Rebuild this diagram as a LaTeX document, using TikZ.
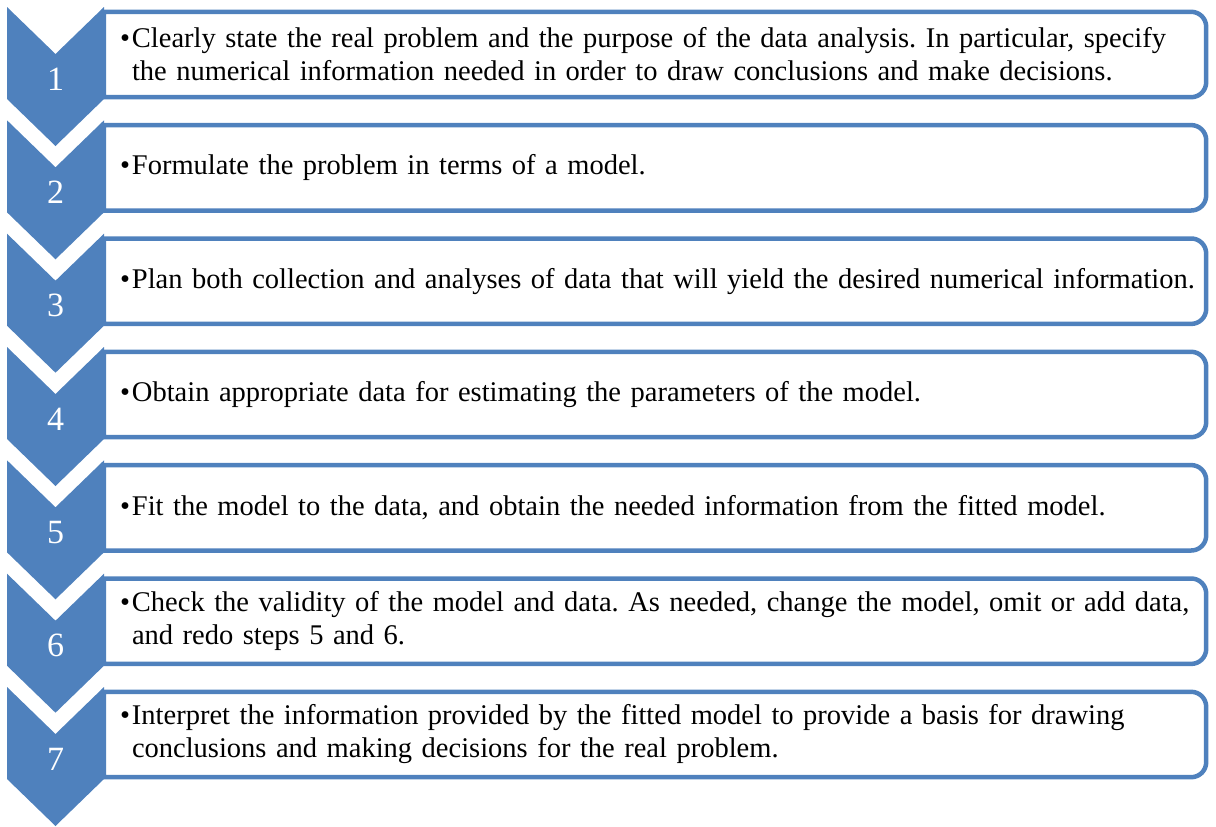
\documentclass[tikz,border=0pt]{standalone}
\usepackage{fontspec}
\setmainfont{Liberation Serif}
\frenchspacing
\definecolor{stepblue}{HTML}{4F81BD}
\newcommand{\stepdot}{\makebox[12pt][l]{\textbullet}}
\newcommand{\stepindent}{\hspace*{12pt}}
\begin{document}
\begin{tikzpicture}[x=1pt,y=-1pt,
  chev/.style={fill=stepblue},
  frame/.style={draw=stepblue,line width=4.5pt,fill=white},
  stepbox/.style={minimum width=1102pt,minimum height=85pt,inner sep=0pt},
  steptext/.style={anchor=west,inner xsep=16pt,inner ysep=0pt,text width=1084pt,
    align=left,font=\fontsize{28.5}{33}\selectfont},
  num/.style={text=white,font=\fontsize{34}{40}\selectfont}]
\useasboundingbox (0,0) rectangle (1216,827);
% text boxes
\node[stepbox] (s1) at (655,54.5) {};
\node[stepbox] (s2) at (655,167.8) {};
\node[stepbox] (s3) at (655,281.2) {};
\node[stepbox] (s4) at (655,394.5) {};
\node[stepbox] (s5) at (655,507.8) {};
\node[stepbox] (s6) at (655,621.2) {};
\node[stepbox] (s7) at (655,734.5) {};
% frames, square on the left, round on the right
\draw[frame] (s1.north west) -- ([xshift=-15pt]s1.north east) arc[start angle=90,end angle=0,radius=15pt] -- ([yshift=15pt]s1.south east) arc[start angle=0,end angle=-90,radius=15pt] -- (s1.south west) -- cycle;
\draw[frame] (s2.north west) -- ([xshift=-15pt]s2.north east) arc[start angle=90,end angle=0,radius=15pt] -- ([yshift=15pt]s2.south east) arc[start angle=0,end angle=-90,radius=15pt] -- (s2.south west) -- cycle;
\draw[frame] (s3.north west) -- ([xshift=-15pt]s3.north east) arc[start angle=90,end angle=0,radius=15pt] -- ([yshift=15pt]s3.south east) arc[start angle=0,end angle=-90,radius=15pt] -- (s3.south west) -- cycle;
\draw[frame] (s4.north west) -- ([xshift=-15pt]s4.north east) arc[start angle=90,end angle=0,radius=15pt] -- ([yshift=15pt]s4.south east) arc[start angle=0,end angle=-90,radius=15pt] -- (s4.south west) -- cycle;
\draw[frame] (s5.north west) -- ([xshift=-15pt]s5.north east) arc[start angle=90,end angle=0,radius=15pt] -- ([yshift=15pt]s5.south east) arc[start angle=0,end angle=-90,radius=15pt] -- (s5.south west) -- cycle;
\draw[frame] (s6.north west) -- ([xshift=-15pt]s6.north east) arc[start angle=90,end angle=0,radius=15pt] -- ([yshift=15pt]s6.south east) arc[start angle=0,end angle=-90,radius=15pt] -- (s6.south west) -- cycle;
\draw[frame] (s7.north west) -- ([xshift=-15pt]s7.north east) arc[start angle=90,end angle=0,radius=15pt] -- ([yshift=15pt]s7.south east) arc[start angle=0,end angle=-90,radius=15pt] -- (s7.south west) -- cycle;
% step texts
\node[steptext] (t1) at (s1.west) {\stepdot Clearly state the real problem and the purpose of the data analysis. In particular, specify\\\stepindent the numerical information needed in order to draw conclusions and make decisions.};
\node[steptext] (t2) at (s2.west) {\stepdot Formulate the problem in terms of a model.};
\node[steptext] (t3) at (s3.west) {\stepdot Plan both collection and analyses of data that will yield the desired numerical information.};
\node[steptext] (t4) at (s4.west) {\stepdot Obtain appropriate data for estimating the parameters of the model.};
\node[steptext] (t5) at (s5.west) {\stepdot Fit the model to the data, and obtain the needed information from the fitted model.};
\node[steptext] (t6) at (s6.west) {\stepdot Check the validity of the model and data. As needed, change the model, omit or add data,\\\stepindent and redo steps 5 and 6.};
\node[steptext] (t7) at (s7.west) {\stepdot Interpret the information provided by the fitted model to provide a basis for drawing\\\stepindent conclusions and making decisions for the real problem.};
% chevrons
\fill[chev] (7,7) -- (55.5,54) -- (104,7) -- (104,99) -- (55.5,146) -- (7,99) -- cycle;
\fill[chev] (7,120.3) -- (55.5,167.3) -- (104,120.3) -- (104,212.3) -- (55.5,259.3) -- (7,212.3) -- cycle;
\fill[chev] (7,233.7) -- (55.5,280.7) -- (104,233.7) -- (104,325.7) -- (55.5,372.7) -- (7,325.7) -- cycle;
\fill[chev] (7,347) -- (55.5,394) -- (104,347) -- (104,439) -- (55.5,486) -- (7,439) -- cycle;
\fill[chev] (7,460.3) -- (55.5,507.3) -- (104,460.3) -- (104,552.3) -- (55.5,599.3) -- (7,552.3) -- cycle;
\fill[chev] (7,573.7) -- (55.5,620.7) -- (104,573.7) -- (104,665.7) -- (55.5,712.7) -- (7,665.7) -- cycle;
\fill[chev] (7,687) -- (55.5,734) -- (104,687) -- (104,779) -- (55.5,826) -- (7,779) -- cycle;
% step numbers
\node[num] (n1) at (55.5,79) {1};
\node[num] (n2) at (55.5,192.3) {2};
\node[num] (n3) at (55.5,305.7) {3};
\node[num] (n4) at (55.5,419) {4};
\node[num] (n5) at (55.5,532.3) {5};
\node[num] (n6) at (55.5,645.7) {6};
\node[num] (n7) at (55.5,759) {7};
\end{tikzpicture}
\end{document}
